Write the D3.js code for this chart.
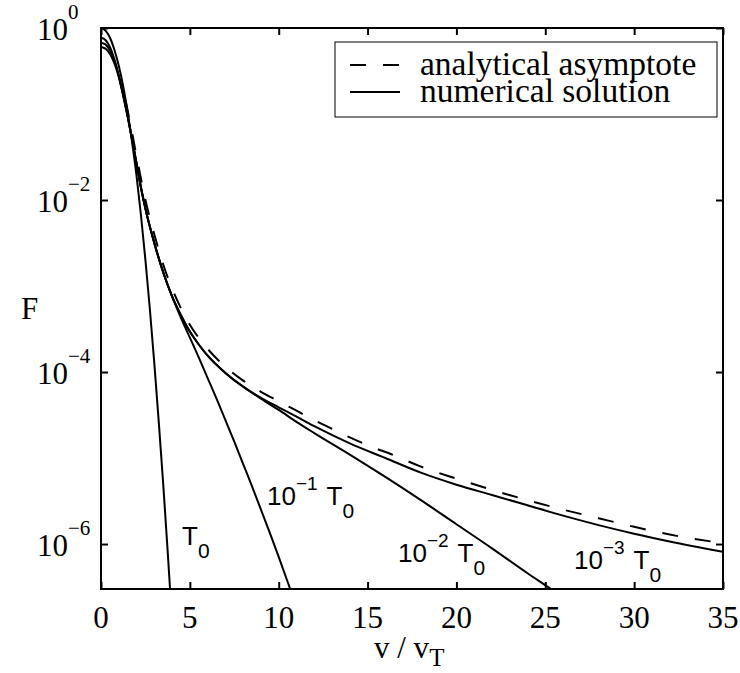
<!DOCTYPE html>
<html>
<head>
<meta charset="utf-8">
<script src="https://cdn.jsdelivr.net/npm/d3@7"></script>
<style>
  body { margin: 0; background: #fff; }
  svg { display: block; }
</style>
</head>
<body>
<div id="container"></div>
<script>
// values: v / v_T and log10(F)
var vT0   = [0, 0.25, 0.5, 0.75, 1, 1.25, 1.5, 1.75, 2, 2.25, 2.5, 2.75, 3, 3.25, 3.5, 3.75, 4];
var logT0 = [0, -0.03, -0.11, -0.25, -0.44, -0.68, -0.98, -1.33, -1.72, -2.18, -2.7, -3.27, -3.9, -4.58, -5.3, -6.08, -6.9];

var vT1   = [0, 0.25, 0.5, 0.75, 1, 1.25, 1.5, 1.75, 2, 2.25, 2.5, 3, 3.5, 4, 4.5, 5, 5.5, 6, 6.5, 7, 7.5, 8, 8.5, 9, 9.5, 10, 10.64, 11];
var logT1 = [-0.113, -0.14, -0.22, -0.36, -0.55, -0.77, -1.02, -1.29, -1.57, -1.85, -2.1, -2.5, -2.84, -3.12, -3.37, -3.6, -3.83, -4.07, -4.31, -4.56, -4.81, -5.07, -5.33, -5.6, -5.87, -6.15, -6.52, -6.73];

var vT2   = [0, 0.25, 0.5, 0.75, 1, 1.25, 1.5, 1.75, 2, 2.25, 2.5, 3, 3.5, 4, 4.5, 5, 5.5, 6, 7, 8, 9, 10, 11, 12, 14, 16, 18, 20, 22, 24, 25.3, 26];
var logT2 = [-0.17, -0.19, -0.26, -0.38, -0.56, -0.78, -1.03, -1.3, -1.58, -1.86, -2.1, -2.5, -2.84, -3.12, -3.34, -3.53, -3.68, -3.81, -4.01, -4.17, -4.31, -4.44, -4.58, -4.71, -4.96, -5.22, -5.49, -5.77, -6.05, -6.34, -6.52, -6.62];

var vT3   = [0, 0.25, 0.5, 0.75, 1, 1.25, 1.5, 1.75, 2, 2.25, 2.5, 3, 3.5, 4, 4.5, 5, 5.5, 6, 7, 8, 9, 10, 11, 12, 14, 16, 18, 20, 22, 24, 26, 28, 30, 32, 35];
var logT3 = [-0.22, -0.24, -0.3, -0.41, -0.57, -0.79, -1.03, -1.3, -1.58, -1.86, -2.1, -2.5, -2.84, -3.12, -3.34, -3.53, -3.68, -3.81, -4.01, -4.17, -4.3, -4.41, -4.52, -4.63, -4.83, -5.0, -5.17, -5.31, -5.43, -5.55, -5.67, -5.78, -5.88, -5.97, -6.09];

var vAsym   = [1.4, 1.75, 2, 2.5, 3, 3.5, 4, 4.5, 5, 6, 7, 8, 9, 10, 11, 12, 13, 14, 15, 16.5, 18, 20, 22, 24, 26, 28, 30, 32, 35];
var logAsym = [-0.86, -1.22, -1.49, -2.0, -2.4, -2.75, -3.03, -3.26, -3.45, -3.73, -3.94, -4.1, -4.23, -4.34, -4.45, -4.56, -4.66, -4.76, -4.85, -4.97, -5.1, -5.24, -5.37, -5.49, -5.6, -5.7, -5.8, -5.89, -5.99];

var xTicks = [0, 5, 10, 15, 20, 25, 30, 35];
var yTickExp = [0, -2, -4, -6];
var legendNames = ['analytical asymptote', 'numerical solution'];
var curveTexts = [
    { pre: '', sup: '', t: 'T', sub: '0' },
    { pre: '10', sup: '\u22121', t: 'T', sub: '0' },
    { pre: '10', sup: '\u22122', t: 'T', sub: '0' },
    { pre: '10', sup: '\u22123', t: 'T', sub: '0' }
];

var width = 740,
    height = 673,
    margin = { left: 101, right: 17, top: 28, bottom: 84 };

var serif = '"Liberation Serif", "Times New Roman", serif';
var sans = '"Liberation Sans", Arial, Helvetica, sans-serif';

var svg = d3.select('#container')
    .append('svg')
    .attr('width', width)
    .attr('height', height);

svg.append('rect')
    .attr('width', width)
    .attr('height', height)
    .attr('fill', '#fff');

var x = d3.scaleLinear()
    .domain([0, 35])
    .range([margin.left, width - margin.right]);
var y = d3.scaleLog()
    .domain([3e-7, 1])
    .range([height - margin.bottom, margin.top]);

svg.append('clipPath')
    .attr('id', 'plot')
    .append('rect')
    .attr('x', x(0))
    .attr('y', y(1))
    .attr('width', x(35) - x(0))
    .attr('height', y(3e-7) - y(1));

function pairs(vs, logs) {
    return vs.map(function(v, i) {
        return [v, Math.pow(10, logs[i])];
    });
}

var line = d3.line()
    .x(function(d) { return x(d[0]); })
    .y(function(d) { return y(d[1]); })
    .curve(d3.curveMonotoneX);

var curves = svg.append('g').attr('clip-path', 'url(#plot)');

[[vT0, logT0], [vT1, logT1], [vT2, logT2], [vT3, logT3]].forEach(function(s) {
    curves.append('path')
        .datum(pairs(s[0], s[1]))
        .attr('d', line)
        .attr('fill', 'none')
        .attr('stroke', '#000')
        .attr('stroke-width', 2);
});

curves.append('path')
    .datum(pairs(vAsym, logAsym))
    .attr('d', line)
    .attr('fill', 'none')
    .attr('stroke', '#000')
    .attr('stroke-width', 2)
    .attr('stroke-dasharray', '16,17');

// ticks on all four sides, pointing inward
var tick = 7;
svg.append('g')
    .attr('transform', 'translate(0,' + y(3e-7) + ')')
    .call(d3.axisBottom(x).tickValues(xTicks).tickSizeInner(-tick).tickSizeOuter(0).tickFormat(''));
svg.append('g')
    .attr('transform', 'translate(0,' + y(1) + ')')
    .call(d3.axisTop(x).tickValues(xTicks).tickSizeInner(-tick).tickSizeOuter(0).tickFormat(''));
var yTicks = yTickExp.map(function(e) { return Math.pow(10, e); });
svg.append('g')
    .attr('transform', 'translate(' + x(0) + ',0)')
    .call(d3.axisLeft(y).tickValues(yTicks).tickSizeInner(-tick).tickSizeOuter(0).tickFormat(''));
svg.append('g')
    .attr('transform', 'translate(' + x(35) + ',0)')
    .call(d3.axisRight(y).tickValues(yTicks).tickSizeInner(-tick).tickSizeOuter(0).tickFormat(''));
svg.selectAll('.domain').remove();
svg.selectAll('.tick line').attr('stroke', '#000').attr('stroke-width', 2);

svg.append('rect')
    .attr('x', x(0))
    .attr('y', y(1))
    .attr('width', x(35) - x(0))
    .attr('height', y(3e-7) - y(1))
    .attr('fill', 'none')
    .attr('stroke', '#000')
    .attr('stroke-width', 2);

// tick labels
svg.selectAll('.xlab')
    .data(xTicks)
    .enter()
    .append('text')
    .attr('class', 'xlab')
    .attr('x', function(d) { return x(d); })
    .attr('y', y(3e-7) + 39)
    .attr('text-anchor', 'middle')
    .style('font-family', serif)
    .style('font-size', '31px')
    .text(function(d) { return d; });

var ylab = svg.selectAll('.ylab')
    .data(yTickExp)
    .enter()
    .append('text')
    .attr('class', 'ylab')
    .attr('x', 37)
    .attr('y', function(d) { return y(Math.pow(10, d)) + 12; })
    .style('font-family', serif)
    .style('font-size', '31px');
ylab.append('tspan').text('10');
ylab.append('tspan')
    .attr('dy', -21)
    .style('font-size', '21px')
    .text(function(d) { return d === 0 ? '0' : '\u2212' + (-d); });

// axis titles
var xt = svg.append('text')
    .attr('x', 374)
    .attr('y', 658)
    .style('font-family', serif)
    .style('font-size', '31px');
xt.append('tspan').text('v / v');
xt.append('tspan').attr('dy', 8).style('font-size', '25px').text('T');

svg.append('text')
    .attr('x', 21)
    .attr('y', 319)
    .style('font-family', serif)
    .style('font-size', '31px')
    .text('F');

// curve labels
var labelPos = [[182, 545], [267, 505], [398, 562], [574, 569]];
curveTexts.forEach(function(c, i) {
    var t = svg.append('text')
        .attr('x', labelPos[i][0])
        .attr('y', labelPos[i][1])
        .style('font-family', sans)
        .style('font-size', '26px');
    if (c.pre) {
        t.append('tspan').text(c.pre);
        t.append('tspan').attr('dy', -15).style('font-size', '19px').text(c.sup);
        t.append('tspan').attr('dy', 15).attr('dx', 9).text(c.t);
    } else {
        t.append('tspan').text(c.t);
    }
    t.append('tspan').attr('dy', 13).style('font-size', '21px').text(c.sub);
});

// legend
var lg = svg.append('g');
lg.append('rect')
    .attr('x', 335)
    .attr('y', 42)
    .attr('width', 382)
    .attr('height', 75)
    .attr('fill', '#fff')
    .attr('stroke', '#000')
    .attr('stroke-width', 1);
legendNames.forEach(function(name, i) {
    lg.append('line')
        .attr('x1', 350)
        .attr('x2', 400)
        .attr('y1', 65 + i * 27)
        .attr('y2', 65 + i * 27)
        .attr('stroke', '#000')
        .attr('stroke-width', 2)
        .attr('stroke-dasharray', i === 0 ? '16,17' : null);
    lg.append('text')
        .attr('x', 420)
        .attr('y', 75 + i * 27)
        .style('font-family', serif)
        .style('font-size', '33.5px')
        .text(name);
});
</script>
</body>
</html>
